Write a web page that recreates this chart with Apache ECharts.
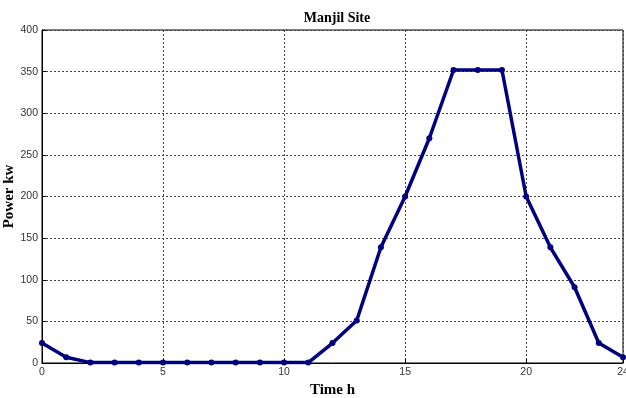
<!DOCTYPE html>
<html><head><meta charset="utf-8">
<script src="https://cdn.jsdelivr.net/npm/echarts@6/dist/echarts.min.js"></script>
<style>html,body{margin:0;padding:0;background:#fff}#c{width:626px;height:398px}</style>
</head><body><div id="c"></div>
<script>
var hours = [0,1,2,3,4,5,6,7,8,9,10,11,12,13,14,15,16,17,18,19,20,21,22,23,24];
var power = [24,7,0.5,0.5,0.5,0.5,0.5,0.5,0.5,0.5,0.5,0.5,24,51,139,200,270,352,352,352,200,139,91,24,7];
var titleText = 'Manjil Site';
var xName = 'Time h';
var yName = 'Power kw';

var chart = echarts.init(document.getElementById('c'), null, {renderer:'canvas'});
var gridLine = {show:true, lineStyle:{color:'#444', type:[2,2], width:1}};
chart.setOption({
  animation:false,
  backgroundColor:'#fff',
  title:{text:titleText, left:332, textAlign:'center', top:6,
    textStyle:{fontFamily:'Liberation Serif', fontWeight:'bold', fontSize:14, color:'#000'}},
  grid:{left:42, right:3, top:30, bottom:35, show:true, borderColor:'#000', borderWidth:1,
    outerBoundsMode:'none', containLabel:false},
  xAxis:{type:'value', min:0, max:24, interval:5,
    name:xName, nameLocation:'middle', nameGap:20, nameMoveOverlap:false,
    nameTextStyle:{fontFamily:'Liberation Serif', fontWeight:'bold', fontSize:15, color:'#000'},
    axisLine:{show:true, lineStyle:{color:'#000', width:1}},
    axisTick:{show:true, inside:true, length:4, lineStyle:{color:'#000'}},
    axisLabel:{fontFamily:'Liberation Sans', fontSize:10.5, color:'#333', margin:4},
    splitLine:gridLine},
  yAxis:{type:'value', min:0, max:400, interval:50,
    name:yName, nameLocation:'middle', nameGap:25, nameMoveOverlap:false,
    nameTextStyle:{fontFamily:'Liberation Serif', fontWeight:'bold', fontSize:15, color:'#000'},
    axisLine:{show:true, lineStyle:{color:'#000', width:1}},
    axisTick:{show:true, inside:true, length:4, lineStyle:{color:'#000'}},
    axisLabel:{fontFamily:'Liberation Sans', fontSize:10.5, color:'#333', margin:4},
    splitLine:gridLine},
  series:[{type:'line', data:hours.map(function(h,i){return [h,power[i]];}),
    symbol:'circle', symbolSize:6, showAllSymbol:true,
    lineStyle:{color:'#00007f', width:3.5},
    itemStyle:{color:'#00007f'}}]
});
</script></body></html>
